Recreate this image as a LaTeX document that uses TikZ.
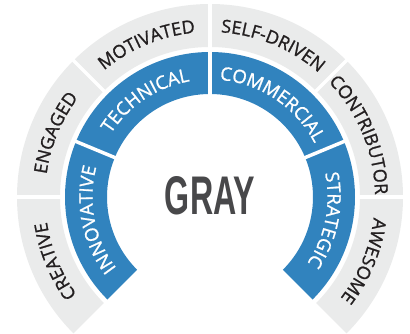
\documentclass[tikz,border=0pt]{standalone}
\usepackage{fontspec}
\usepackage{graphicx}
\setmainfont{Open Sans}
\newfontfamily\labfont{Open Sans}[FakeBold=1.1]
\newfontfamily\grayfont{Liberation Sans}
\usetikzlibrary{decorations.text}
\definecolor{bandgray}{HTML}{EAEBEB}
\definecolor{bandblue}{HTML}{3183BE}
\definecolor{txtdark}{HTML}{231F20}
\definecolor{titlegray}{HTML}{48484A}
\newcommand\glab{\labfont\fontsize{18}{20}\selectfont\color{txtdark}}
\newcommand\blab{\labfont\fontsize{18.5}{20}\selectfont\color{white}}
\newcommand\arclabel[5]{%
  \path[decorate, decoration={text along path, text align=center, text={|#4|#5}}]
    (#2:#1) arc[start angle=#2, end angle=#3, radius=#1];}
\tikzset{
  divider/.style={white, line width=3.5pt},
}
\begin{document}
\begin{tikzpicture}[x=1pt,y=1pt]
\useasboundingbox (0,0) rectangle (410,334);
\begin{scope}[shift={(210,137)}]
  % outer gray band
  \fill[bandgray] (225:193) arc[start angle=225, end angle=-45, radius=193]
     -- (-45:150) arc[start angle=-45, end angle=225, radius=150] -- cycle;
  % inner blue band
  \fill[bandblue] (225:145) arc[start angle=225, end angle=-45, radius=145]
     -- (-45:103) arc[start angle=-45, end angle=225, radius=103] -- cycle;
  % dividers
  \foreach \a in {180,135,90,45,0} \draw[divider] (\a:148) -- (\a:196);
  \foreach \a in {157.5,90,22.5} \draw[divider] (\a:100) -- (\a:147);
  % outer labels
  \arclabel{165}{225}{180}{\glab}{CREATIVE}
  \arclabel{165}{180}{135}{\glab}{ENGAGED}
  \arclabel{165}{135}{90}{\glab}{MOTIVATED}
  \arclabel{165}{90}{45}{\glab}{SELF-DRIVEN}
  \arclabel{165}{45}{0}{\glab}{CONTRIBUTOR}
  \arclabel{165}{0}{-45}{\glab}{AWESOME}
  % inner labels
  \arclabel{117.5}{225}{157.5}{\blab}{INNOVATIVE}
  \arclabel{117.5}{157.5}{90}{\blab}{TECHNICAL}
  \arclabel{117.5}{90}{22.5}{\blab}{COMMERCIAL}
  \arclabel{117.5}{22.5}{-45}{\blab}{STRATEGIC}
  % title
  \node[text=titlegray, inner sep=0pt] (title) at (0,1) {\resizebox{90pt}{38pt}{\grayfont\bfseries GRAY}};
\end{scope}
\end{tikzpicture}
\end{document}
